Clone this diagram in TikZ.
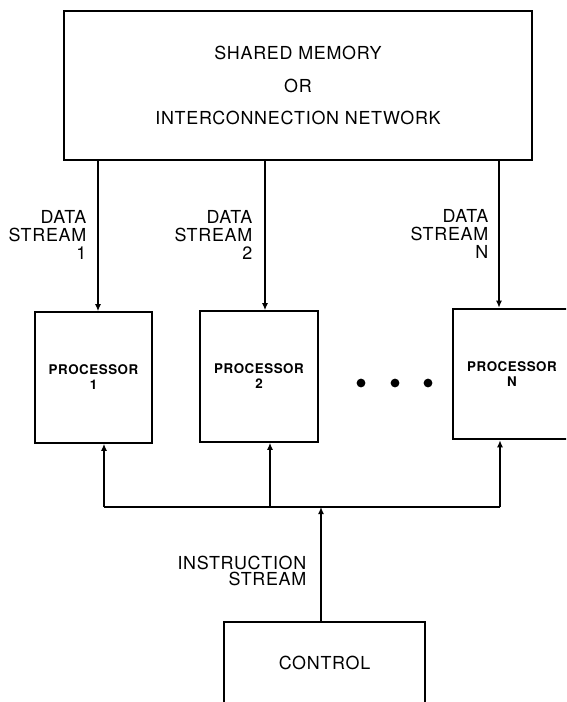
\documentclass[tikz,border=0pt]{standalone}
\usepackage{fontspec}
\setmainfont[LetterSpace=4]{TeX Gyre Heros}
\usetikzlibrary{arrows.meta, positioning}

\begin{document}
\begin{tikzpicture}[x=0.02cm, y=-0.02cm, line width=0.75pt,
  box/.style={draw, line width=1.1pt, inner sep=0pt},
  procbox/.style={box, minimum width=66.9pt, minimum height=74.3pt,
    font=\fontsize{7.6}{8.5}\selectfont\bfseries, align=center},
  lbl/.style={font=\fontsize{10.2}{10.2}\selectfont, align=right,
    anchor=east, inner sep=0pt},
  arr/.style={-{Latex[length=4pt, width=3.4pt]}}]

  \useasboundingbox (0,0) rectangle (566,702);
  \clip (0,0) rectangle (566,702);

  \node[box, minimum width=266.4pt, minimum height=84.5pt,
    font=\fontsize{10.2}{18.7}\selectfont, align=center] (mem) at (298,85.5)
    {SHARED MEMORY\\OR\\INTERCONNECTION NETWORK};

  \node[procbox] (p1) at (93.5,377.5) {PROCESSOR\\1};
  \node[procbox] (p2) at (259,376.5)  {PROCESSOR\\2};
  \node[procbox] (pN) at (512,374)    {PROCESSOR\\N};

  \foreach \x in {361,395,428}
    \fill (\x,383) circle (2.5pt);

  \node[box, minimum width=114pt, minimum height=46.5pt,
    font=\fontsize{10.2}{12}\selectfont] (ctrl) at (324.5,663) {CONTROL};

  % data streams
  \coordinate (d1) at (98,0);
  \coordinate (d2) at (265,0);
  \coordinate (dN) at (499,0);
  \draw[arr] (d1 |- mem.south) -- (d1 |- p1.north);
  \draw[arr] (d2 |- mem.south) -- (d2 |- p2.north);
  \draw[arr] (dN |- mem.south) -- (dN |- pN.north);

  \node[lbl] (ds1) at (87,235)  {DATA\\STREAM\\1};
  \node[lbl] (ds2) at (253,235) {DATA\\STREAM\\2};
  \node[lbl] (dsN) at (489,234) {DATA\\STREAM\\N};

  % instruction stream
  \coordinate (c1) at (104,507);
  \coordinate (c2) at (270,507);
  \coordinate (cN) at (500,507);
  \coordinate (ci) at (321,507);
  \draw (c1) -- (cN);
  \draw[arr] (c1) -- (c1 |- p1.south);
  \draw[arr] (c2) -- (c2 |- p2.south);
  \draw[arr] (cN) -- (cN |- pN.south);
  \draw[arr] (ctrl.north -| ci) -- (ci);

  \node[lbl, font=\fontsize{10.2}{9.1}\selectfont] (is) at (307,571)
    {INSTRUCTION\\STREAM};

\end{tikzpicture}
\end{document}
